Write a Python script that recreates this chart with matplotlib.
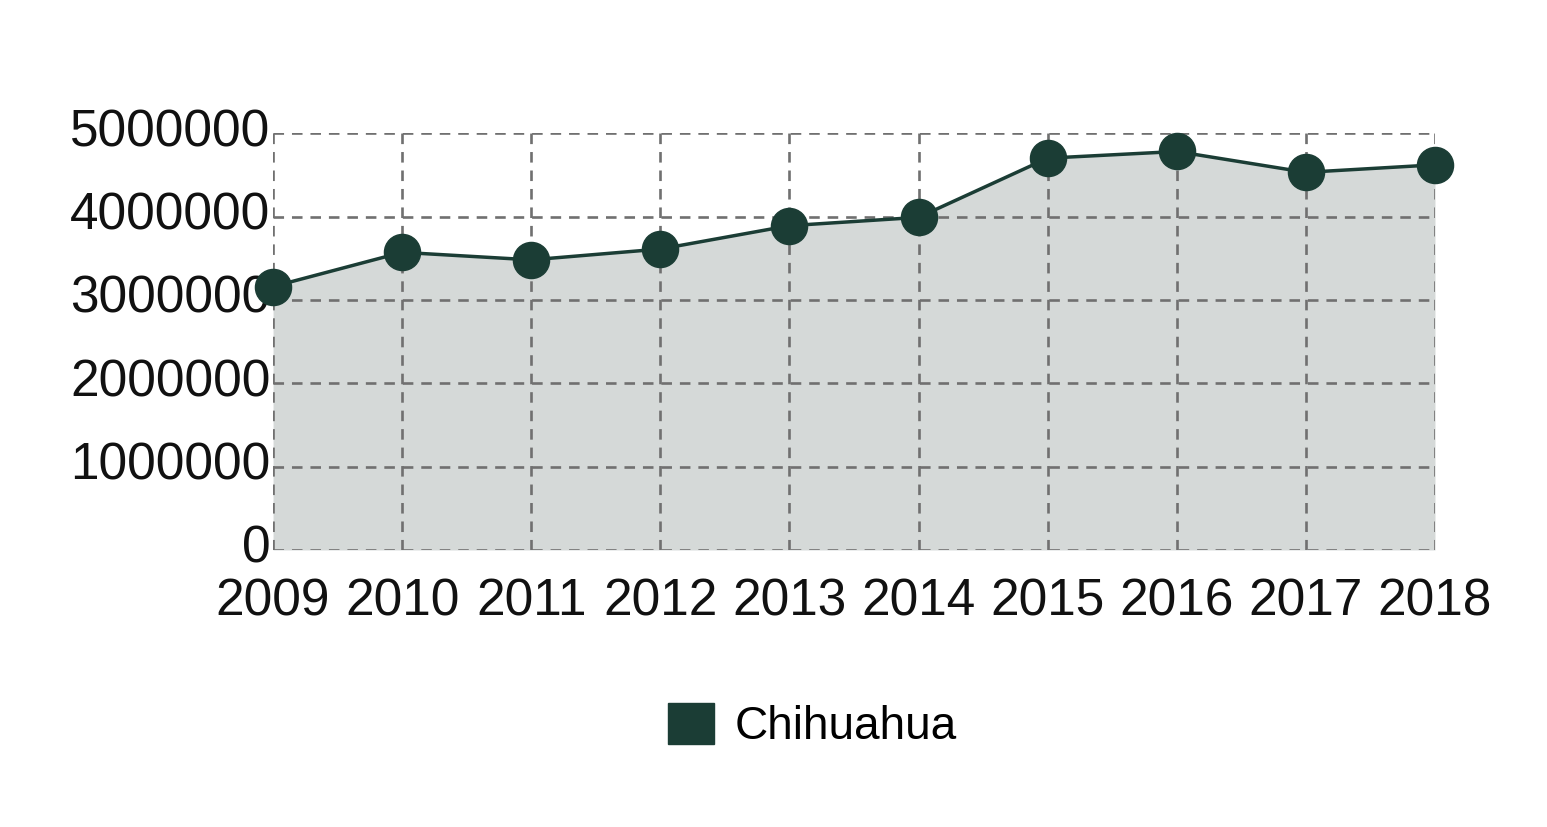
import matplotlib
matplotlib.use("Agg")
import matplotlib.pyplot as plt
import matplotlib.transforms as mtransforms
from matplotlib.patches import Patch

years = ["2009", "2010", "2011", "2012", "2013", "2014", "2015", "2016", "2017", "2018"]
values = [3160000, 3570000, 3480000, 3610000, 3890000, 3990000, 4700000, 4780000, 4530000, 4620000]
yticks = [0, 1000000, 2000000, 3000000, 4000000, 5000000]
series_name = "Chihuahua"

plt.rcParams['font.family'] = ['Liberation Sans', 'DejaVu Sans']

line_col = "#1b3d35"
fill_col = "#d5d9d8"
grid_col = "#707070"

fig = plt.figure(figsize=(15.47, 8.27), dpi=100)
ax = fig.add_axes([0.1765, 0.335, 0.9276 - 0.1765, 0.839 - 0.335])

x = list(range(len(years)))
ax.fill_between(x, values, 0, color=fill_col, zorder=1, linewidth=0)
ax.plot(x, values, color=line_col, lw=2.5, zorder=3, clip_on=False)
ax.plot(x, values, 'o', color=line_col, markersize=26, zorder=4, clip_on=False)

ax.set_xlim(0, len(years) - 1)
ax.set_ylim(0, 5000000)
ax.set_xticks(x)
ax.set_xticklabels(years)
ax.set_yticks(yticks)
ax.set_yticklabels([str(v) for v in yticks])

for s in ax.spines.values():
    s.set_visible(False)
ax.set_axisbelow(False)
ax.grid(True, color=grid_col, linestyle=(0, (4, 3)), linewidth=1.9, zorder=2)
ax.tick_params(axis='both', length=0, labelsize=37, colors='#111111')
ax.tick_params(axis='x', pad=20)
ax.tick_params(axis='y', pad=2)

offset = mtransforms.ScaledTranslation(0, 6 / 100, fig.dpi_scale_trans)
for lab in ax.get_yticklabels():
    lab.set_transform(lab.get_transform() + offset)

leg = fig.legend(handles=[Patch(facecolor=line_col, edgecolor=line_col, label=series_name)],
                 loc='center', bbox_to_anchor=(0.525, 0.122), frameon=False,
                 fontsize=33, handlelength=1.0, handleheight=1.0, handletextpad=0.45)

fig.savefig("out.png", dpi=100, facecolor="white")
